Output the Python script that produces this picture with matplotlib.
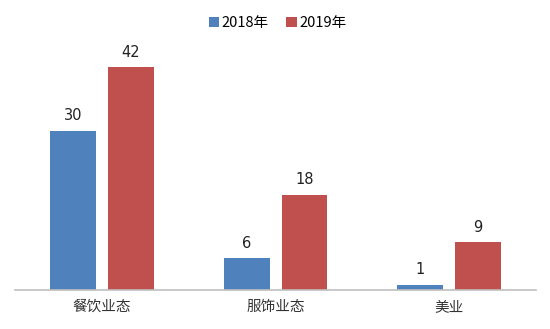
import matplotlib
matplotlib.use("Agg")
import matplotlib.pyplot as plt
import numpy as np

plt.rcParams['font.family'] = ['Noto Sans CJK SC', 'DejaVu Sans']

categories = ["餐饮业态", "服饰业态", "美业"]
series_names = ["2018年", "2019年"]
values_2018 = [30, 6, 1]
values_2019 = [42, 18, 9]
colors = ["#4F81BD", "#C0504D"]

fig = plt.figure(figsize=(5.5, 3.29), dpi=100)
ax = fig.add_axes([0.028, 0.1185, 0.946, 0.806])

x = np.arange(len(categories))
width = 0.265
offset = 0.167
for vals, name, c, off in [(values_2018, series_names[0], colors[0], -offset),
                           (values_2019, series_names[1], colors[1], offset)]:
    bars = ax.bar(x + off, vals, width, color=c, label=name)
    for b, v in zip(bars, vals):
        ax.annotate(str(v), (b.get_x() + b.get_width() / 2, v),
                    xytext=(0, 5.5), textcoords="offset points",
                    ha="center", va="bottom", fontsize=10.5, color="#222222",
                    family=['DejaVu Sans'])

ax.set_xlim(-0.5, 2.5)
ax.set_ylim(0, 50)
ax.set_xticks(x)
ax.set_xticklabels(categories, fontsize=10.5, color="#333333")
ax.tick_params(axis='x', length=0, pad=7)
ax.set_yticks([])
for s in ["top", "right", "left"]:
    ax.spines[s].set_visible(False)
ax.spines["bottom"].set_color("#BFBFBF")
ax.spines["bottom"].set_linewidth(1.2)

leg = fig.legend(loc="upper center", bbox_to_anchor=(0.505, 0.99), ncol=2,
                 frameon=False, fontsize=10.5, handlelength=0.7, handleheight=0.7,
                 handletextpad=0.2, columnspacing=1.2)

fig.savefig("out.png", dpi=100)
